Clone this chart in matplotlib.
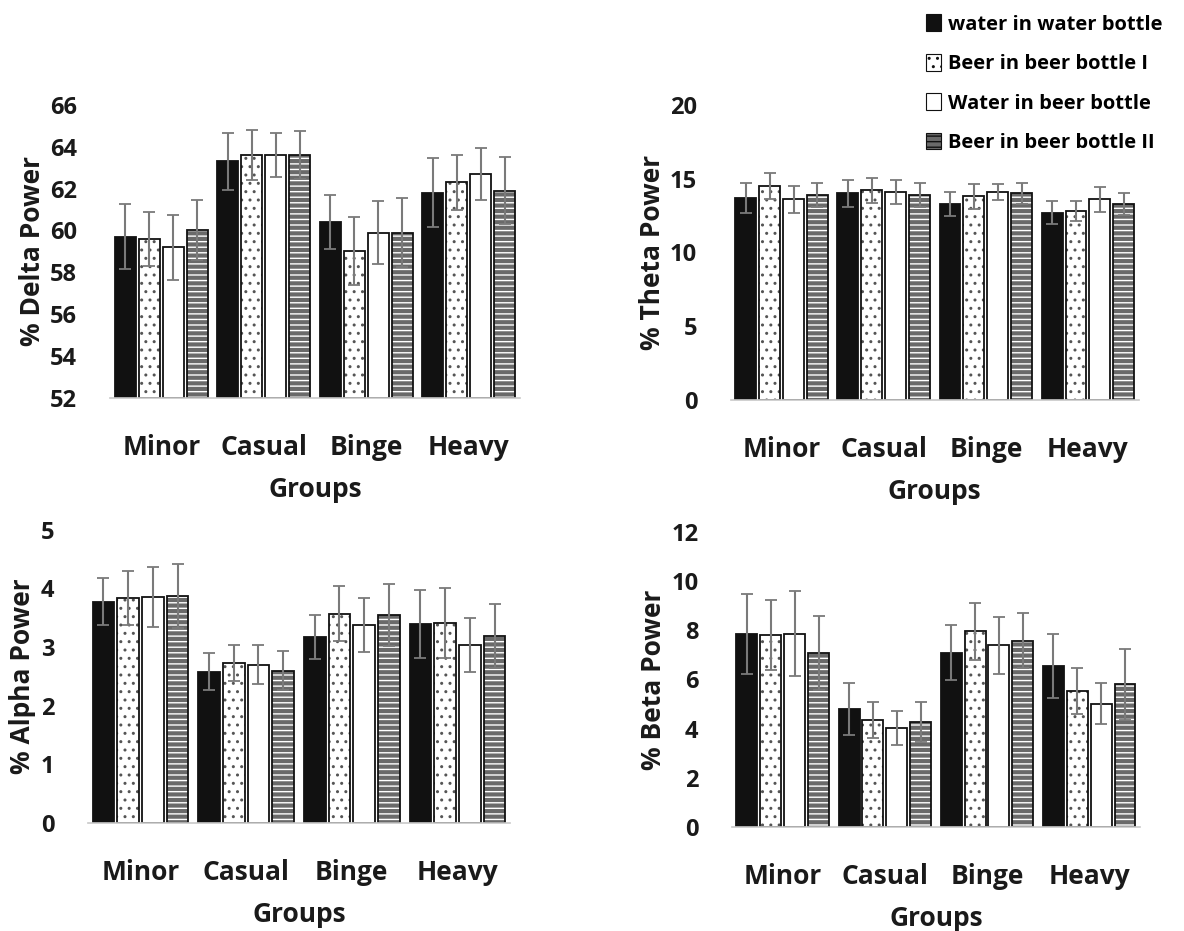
import numpy as np
import matplotlib
matplotlib.use("Agg")
import matplotlib.pyplot as plt
from matplotlib.patches import Patch

plt.rcParams['font.family'] = ['Open Sans', 'DejaVu Sans']
plt.rcParams['font.weight'] = 'bold'
plt.rcParams['hatch.linewidth'] = 1.0

groups = ["Minor", "Casual", "Binge", "Heavy"]
conditions = ["water in water bottle", "Beer in beer bottle I",
              "Water in beer bottle", "Beer in beer bottle II"]

# rows = conditions, columns = groups
delta_mean = [[59.7, 63.3, 60.4, 61.8],
              [59.6, 63.6, 59.0, 62.3],
              [59.2, 63.6, 59.9, 62.7],
              [60.0, 63.6, 59.9, 61.9]]
delta_err = [[1.55, 1.37, 1.27, 1.66],
             [1.30, 1.20, 1.62, 1.32],
             [1.55, 1.03, 1.50, 1.24],
             [1.43, 1.16, 1.64, 1.59]]

theta_mean = [[13.7, 14.0, 13.3, 12.7],
              [14.5, 14.2, 13.8, 12.8],
              [13.6, 14.1, 14.1, 13.6],
              [13.9, 13.9, 14.0, 13.3]]
theta_err = [[1.0, 0.9, 0.8, 0.75],
             [0.9, 0.85, 0.85, 0.7],
             [0.9, 0.8, 0.55, 0.85],
             [0.8, 0.8, 0.7, 0.75]]

alpha_mean = [[3.77, 2.58, 3.17, 3.40],
              [3.83, 2.73, 3.57, 3.41],
              [3.86, 2.70, 3.38, 3.04],
              [3.87, 2.60, 3.54, 3.19]]
alpha_err = [[0.40, 0.31, 0.38, 0.58],
             [0.46, 0.31, 0.47, 0.59],
             [0.51, 0.33, 0.46, 0.46],
             [0.54, 0.33, 0.53, 0.54]]

beta_mean = [[7.86, 4.80, 7.08, 6.55],
             [7.81, 4.35, 7.95, 5.53],
             [7.86, 4.03, 7.39, 5.02],
             [7.08, 4.27, 7.57, 5.80]]
beta_err = [[1.63, 1.07, 1.12, 1.31],
            [1.41, 0.73, 1.15, 0.95],
            [1.72, 0.68, 1.15, 0.85],
            [1.50, 0.81, 1.12, 1.43]]

# fill, hatch, hatch colour for each condition
styles = [("#111111", None, "#111111"),
          ("white", "..", "#555555"),
          ("white", None, "white"),
          ("#6a6a6a", "---", "white")]

panels = [
    ([0.093, 0.5725, 0.346, 0.315], delta_mean, delta_err, "% Delta Power", (52, 66), np.arange(52, 67, 2)),
    ([0.617, 0.5704, 0.345, 0.317], theta_mean, theta_err, "% Theta Power", (0, 20), np.arange(0, 21, 5)),
    ([0.074, 0.116, 0.357, 0.315], alpha_mean, alpha_err, "% Alpha Power", (0, 5), np.arange(0, 6, 1)),
    ([0.618, 0.1117, 0.345, 0.317], beta_mean, beta_err, "% Beta Power", (0, 12), np.arange(0, 13, 2)),
]

fig = plt.figure(figsize=(11.84, 9.31), dpi=100)
x = np.arange(len(groups))
step = 0.234
width = 0.205
txt = "#1a1a1a"

for rect, means, errs, ylab, ylim, yticks in panels:
    ax = fig.add_axes(rect)
    for i in range(4):
        fc, hatch, hc = styles[i]
        pos = x + (i - 1.5) * step
        base = ylim[0]
        heights = np.array(means[i]) - base
        ax.bar(pos, heights, width, bottom=base, color=fc, hatch=hatch,
               edgecolor=hc, linewidth=0)
        ax.bar(pos, heights, width, bottom=base, fill=False,
               edgecolor="#111111", linewidth=1.3)
        ax.errorbar(pos, means[i], yerr=errs[i], fmt="none", ecolor="#7a7a7a",
                    elinewidth=1.5, capsize=4, capthick=1.3)
    ax.set_xlim(-0.5, 3.5)
    ax.set_ylim(*ylim)
    ax.set_yticks(yticks)
    ax.set_xticks(x)
    ax.set_xticklabels(groups)
    for s in ["top", "right", "left"]:
        ax.spines[s].set_visible(False)
    ax.spines["bottom"].set_color("#c8c8c8")
    ax.spines["bottom"].set_linewidth(1.2)
    ax.tick_params(axis="both", length=0, colors=txt)
    ax.tick_params(axis="x", pad=26, labelsize=19)
    ax.tick_params(axis="y", pad=24, labelsize=17)
    ax.set_xlabel("Groups", fontsize=19, fontweight="bold", color=txt, labelpad=11)
    ax.set_ylabel(ylab, fontsize=19, fontweight="bold", color=txt, labelpad=3)

handles = [Patch(facecolor=fc, hatch=h, edgecolor="#111111", linewidth=0.8)
           for fc, h, hc in styles]
fig.legend(handles, conditions, loc="upper left", bbox_to_anchor=(0.767, 1.004),
           frameon=False, handlelength=0.75, handleheight=0.9,
           handletextpad=0.35, labelspacing=0.95, prop={"weight": "bold", "size": 14.5})

fig.savefig("out.png", dpi=100)
